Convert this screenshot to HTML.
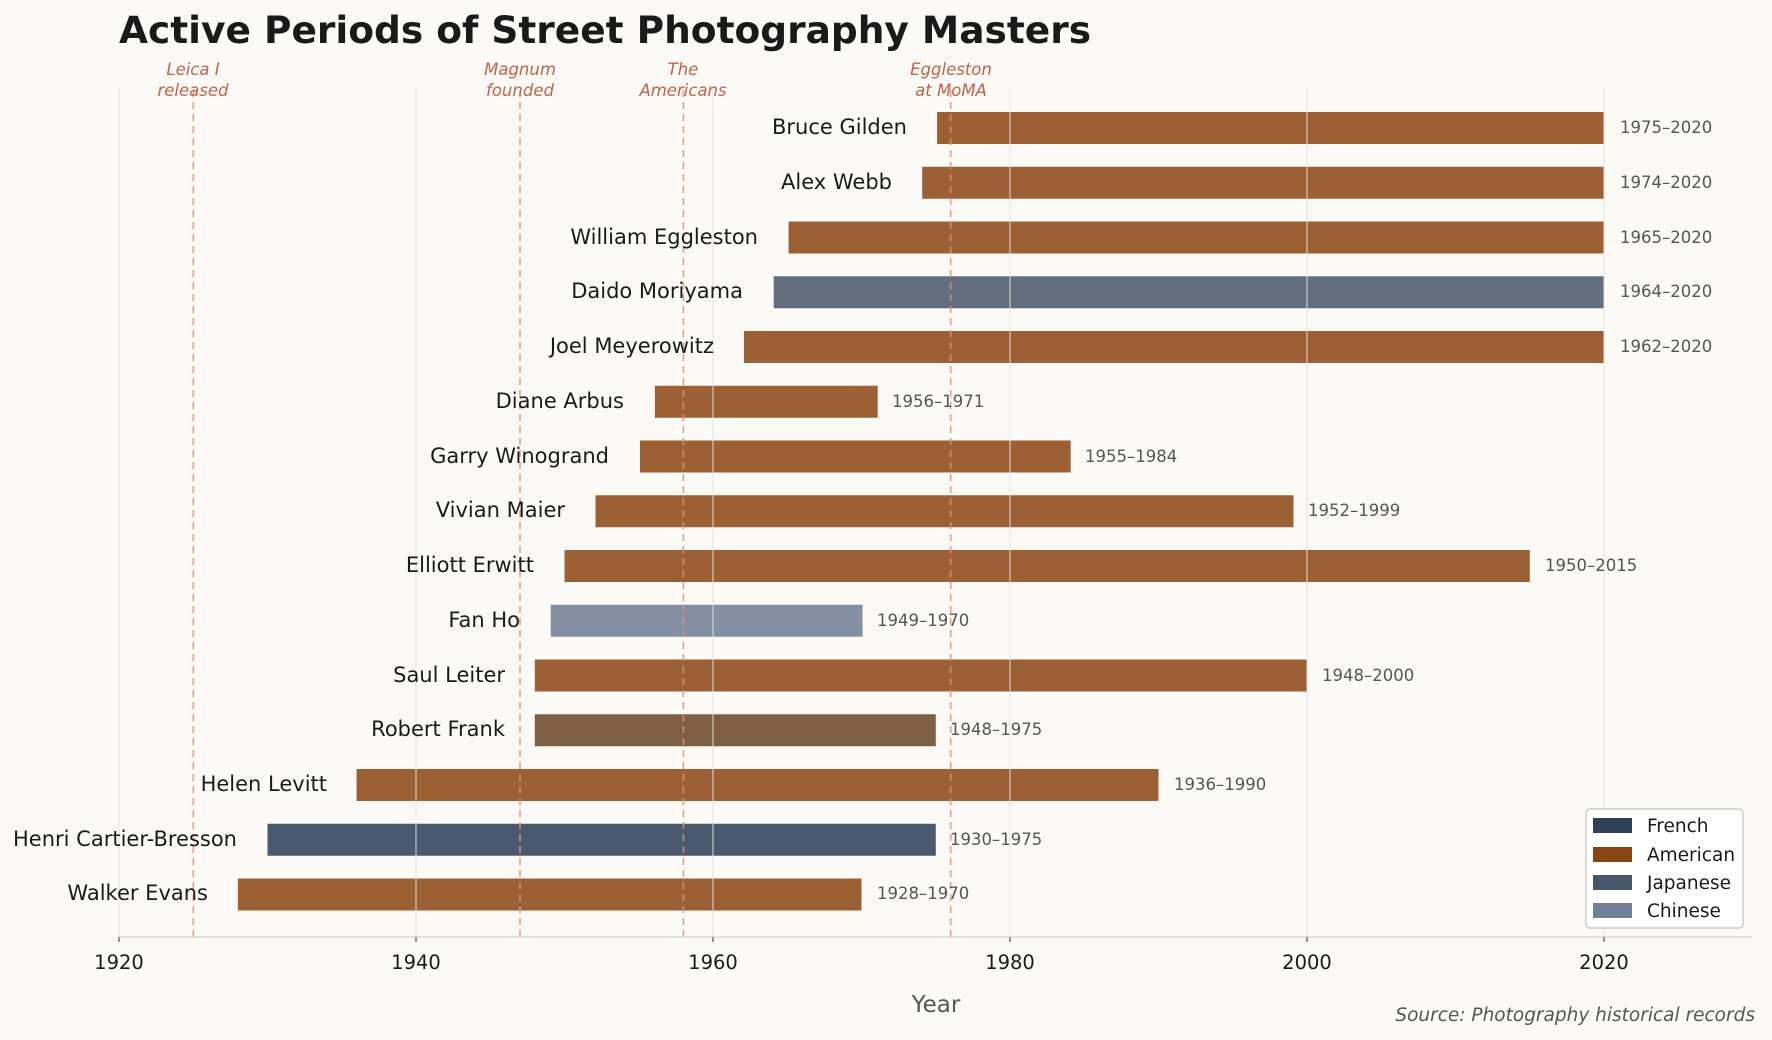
<!DOCTYPE html>
<html><head><meta charset="utf-8"><style>
html,body{margin:0;padding:0;background:#fbfaf7;}
svg{display:block;font-family:"DejaVu Sans","Liberation Sans",sans-serif;}
</style></head><body>
<svg width="1772" height="1040" viewBox="0 0 1772 1040" xmlns="http://www.w3.org/2000/svg">
<rect width="1772" height="1040" fill="#fbfaf7"/>
<text x="119" y="43" font-size="37.5" font-weight="bold" fill="#1a1a1a">Active Periods of Street Photography Masters</text>
<g id="bars">
<rect x="937.1" y="112" width="666.9" height="32" fill="#9c6035"/>
<rect x="922.2" y="166.75" width="681.8" height="32" fill="#9c6035"/>
<rect x="788.6" y="221.5" width="815.4" height="32" fill="#9c6035"/>
<rect x="773.7" y="276.25" width="830.3" height="32" fill="#636e7e"/>
<rect x="743.9" y="331" width="860.1" height="32" fill="#9c6035"/>
<rect x="654.9" y="385.75" width="222.8" height="32" fill="#9c6035"/>
<rect x="640.0" y="440.5" width="430.7" height="32" fill="#9c6035"/>
<rect x="595.5" y="495.25" width="698" height="32" fill="#9c6035"/>
<rect x="564.5" y="550" width="965.3" height="32" fill="#9c6035"/>
<rect x="550.7" y="604.75" width="311.9" height="32" fill="#848fa3"/>
<rect x="534.8" y="659.5" width="772.2" height="32" fill="#9c6035"/>
<rect x="534.8" y="714.25" width="401" height="32" fill="#7f5f44"/>
<rect x="356.6" y="769" width="801.9" height="32" fill="#9c6035"/>
<rect x="267.5" y="823.75" width="668.3" height="32" fill="#4a5a6e"/>
<rect x="237.8" y="878.5" width="623.7" height="32" fill="#9c6035"/>
</g>
<g stroke="#e6e2dc" stroke-width="1.2" opacity="0.8">
<line x1="119" y1="88" x2="119" y2="937"/><line x1="416" y1="88" x2="416" y2="937"/>
<line x1="713" y1="88" x2="713" y2="937"/><line x1="1010" y1="88" x2="1010" y2="937"/>
<line x1="1307" y1="88" x2="1307" y2="937"/><line x1="1604" y1="88" x2="1604" y2="937"/>
</g>
<g stroke="#e0907a" stroke-width="1.6" stroke-dasharray="7,5" opacity="0.85">
<line x1="193.3" y1="90" x2="193.3" y2="937"/><line x1="520" y1="90" x2="520" y2="937"/>
<line x1="683.4" y1="90" x2="683.4" y2="937"/><line x1="950.7" y1="90" x2="950.7" y2="937"/>
</g>
<g font-size="16.5" font-style="italic" fill="#c0634a" text-anchor="middle">
<text x="193" y="75">Leica I</text><text x="193" y="96">released</text>
<text x="520" y="75">Magnum</text><text x="520" y="96">founded</text>
<text x="683" y="75">The</text><text x="683" y="96">Americans</text>
<text x="951" y="75">Eggleston</text><text x="951" y="96">at MoMA</text>
</g>
<g font-size="21" fill="#1a1a1a" text-anchor="end">
<text x="907" y="134">Bruce Gilden</text>
<text x="892" y="189">Alex Webb</text>
<text x="758" y="244">William Eggleston</text>
<text x="743" y="298">Daido Moriyama</text>
<text x="714" y="353">Joel Meyerowitz</text>
<text x="624" y="408">Diane Arbus</text>
<text x="609" y="463">Garry Winogrand</text>
<text x="565" y="517">Vivian Maier</text>
<text x="534" y="572">Elliott Erwitt</text>
<text x="520" y="627">Fan Ho</text>
<text x="505" y="682">Saul Leiter</text>
<text x="505" y="736">Robert Frank</text>
<text x="327" y="791">Helen Levitt</text>
<text x="237" y="846">Henri Cartier-Bresson</text>
<text x="208" y="900">Walker Evans</text>
</g>
<g font-size="16.5" fill="#555">
<text x="1620" y="133">1975–2020</text>
<text x="1620" y="188">1974–2020</text>
<text x="1620" y="243">1965–2020</text>
<text x="1620" y="297">1964–2020</text>
<text x="1620" y="352">1962–2020</text>
<text x="892" y="407">1956–1971</text>
<text x="1085" y="462">1955–1984</text>
<text x="1308" y="516">1952–1999</text>
<text x="1545" y="571">1950–2015</text>
<text x="877" y="626">1949–1970</text>
<text x="1322" y="681">1948–2000</text>
<text x="950" y="735">1948–1975</text>
<text x="1174" y="790">1936–1990</text>
<text x="950" y="845">1930–1975</text>
<text x="877" y="899">1928–1970</text>
</g>
<line x1="119" y1="937" x2="1752" y2="937" stroke="#ddd8d0" stroke-width="1.5"/>
<g stroke="#333" stroke-width="1"><line x1="119" y1="937" x2="119" y2="942"/><line x1="416" y1="937" x2="416" y2="942"/><line x1="713" y1="937" x2="713" y2="942"/><line x1="1010" y1="937" x2="1010" y2="942"/><line x1="1307" y1="937" x2="1307" y2="942"/><line x1="1604" y1="937" x2="1604" y2="942"/></g>
<g font-size="19.5" fill="#1a1a1a" text-anchor="middle">
<text x="119" y="969">1920</text><text x="416" y="969">1940</text><text x="713" y="969">1960</text>
<text x="1010" y="969">1980</text><text x="1307" y="969">2000</text><text x="1604" y="969">2020</text>
</g>
<text x="936" y="1012" font-size="23" fill="#555" text-anchor="middle">Year</text>
<text x="1755" y="1021" font-size="18.5" font-style="italic" fill="#555" text-anchor="end">Source: Photography historical records</text>
<rect x="1586" y="809" width="157" height="119" rx="4" fill="#fff" stroke="#ccc" stroke-width="1.5"/>
<rect x="1593" y="818" width="39" height="15" fill="#2e3f5a"/>
<rect x="1593" y="847" width="39" height="15" fill="#8b4513"/>
<rect x="1593" y="875" width="39" height="15" fill="#48556a"/>
<rect x="1593" y="903" width="39" height="15" fill="#748099"/>
<g font-size="18.5" fill="#1a1a1a">
<text x="1647" y="832">French</text><text x="1647" y="861">American</text>
<text x="1647" y="889">Japanese</text><text x="1647" y="917">Chinese</text>
</g>
</svg>
</body></html>
